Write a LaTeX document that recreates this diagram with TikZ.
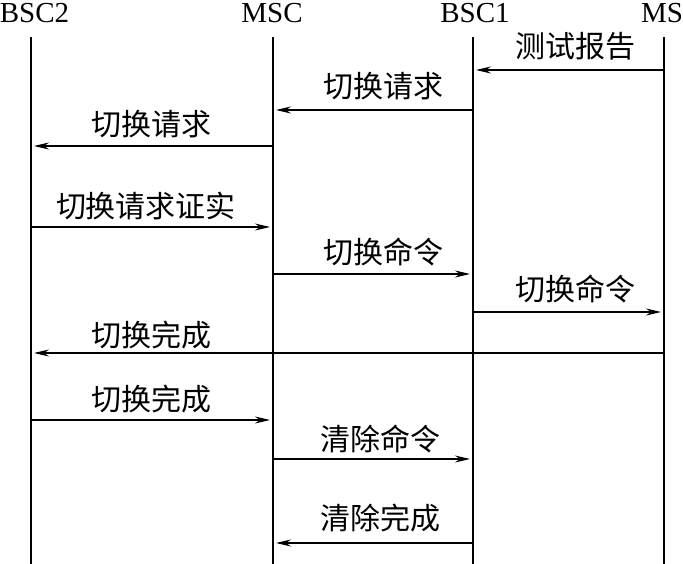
\documentclass[tikz,border=0pt]{standalone}
\usepackage{fontspec}
\setmainfont{Liberation Serif}
\newfontfamily\cjk{Noto Sans CJK SC}
\usetikzlibrary{arrows.meta}
\begin{document}
\begin{tikzpicture}[x=1pt,y=-1pt,
  head/.style={font=\fontsize{29}{29}\selectfont, inner sep=0pt, anchor=base},
  life/.style={line width=1.3pt},
  msg/.style={line width=1.8pt, shorten >=3pt, -{Stealth[length=15pt,width=7pt,inset=5pt]}},
  lbl/.style={font=\cjk\fontsize{30}{30}\selectfont, inner sep=0pt}]
\useasboundingbox (0,0) rectangle (683,564);
% heads
\node[head] (hB2) at (34.5,23) {BSC2};
\node[head] (hMSC) at (272,23) {MSC};
\node[head] (hB1) at (475,23) {BSC1};
\node[head] (hMS) at (662,23) {MS};
% lifelines
\coordinate (b2t) at (31,37);  \coordinate (b2b) at (31,564);
\coordinate (mct) at (273,37); \coordinate (mcb) at (273,564);
\coordinate (b1t) at (473,37); \coordinate (b1b) at (473,564);
\coordinate (mst) at (664,37); \coordinate (msb) at (664,564);
\draw[life] (b2t) -- (b2b);
\draw[life] (mct) -- (mcb);
\draw[life] (b1t) -- (b1b);
\draw[life] (mst) -- (msb);
% messages
\coordinate (m1s) at (664,70);  \coordinate (m1e) at (473,70);
\coordinate (m2s) at (473,110); \coordinate (m2e) at (273,110);
\coordinate (m3s) at (273,146); \coordinate (m3e) at (31,146);
\coordinate (m4s) at (31,227);  \coordinate (m4e) at (273,227);
\coordinate (m5s) at (273,274); \coordinate (m5e) at (473,274);
\coordinate (m6s) at (473,312); \coordinate (m6e) at (664,312);
\coordinate (m7s) at (664,353); \coordinate (m7e) at (31,353);
\coordinate (m8s) at (31,420);  \coordinate (m8e) at (273,420);
\coordinate (m9s) at (273,459); \coordinate (m9e) at (473,459);
\coordinate (m10s) at (473,543); \coordinate (m10e) at (273,543);
\draw[msg] (m1s) -- (m1e);
\draw[msg] (m2s) -- (m2e);
\draw[msg] (m3s) -- (m3e);
\draw[msg] (m4s) -- (m4e);
\draw[msg] (m5s) -- (m5e);
\draw[msg] (m6s) -- (m6e);
\draw[msg] (m7s) -- (m7e);
\draw[msg] (m8s) -- (m8e);
\draw[msg] (m9s) -- (m9e);
\draw[msg] (m10s) -- (m10e);
% labels
\node[lbl] (l1) at (575,46) {测试报告};
\node[lbl] (l2) at (383,86) {切换请求};
\node[lbl] (l3) at (151,124) {切换请求};
\node[lbl] (l4) at (146,206) {切换请求证实};
\node[lbl] (l5) at (383,252) {切换命令};
\node[lbl] (l6) at (575,289) {切换命令};
\node[lbl] (l7) at (151,335) {切换完成};
\node[lbl] (l8) at (151,399) {切换完成};
\node[lbl] (l9) at (380,439) {清除命令};
\node[lbl] (l10) at (380,518) {清除完成};
\end{tikzpicture}
\end{document}
